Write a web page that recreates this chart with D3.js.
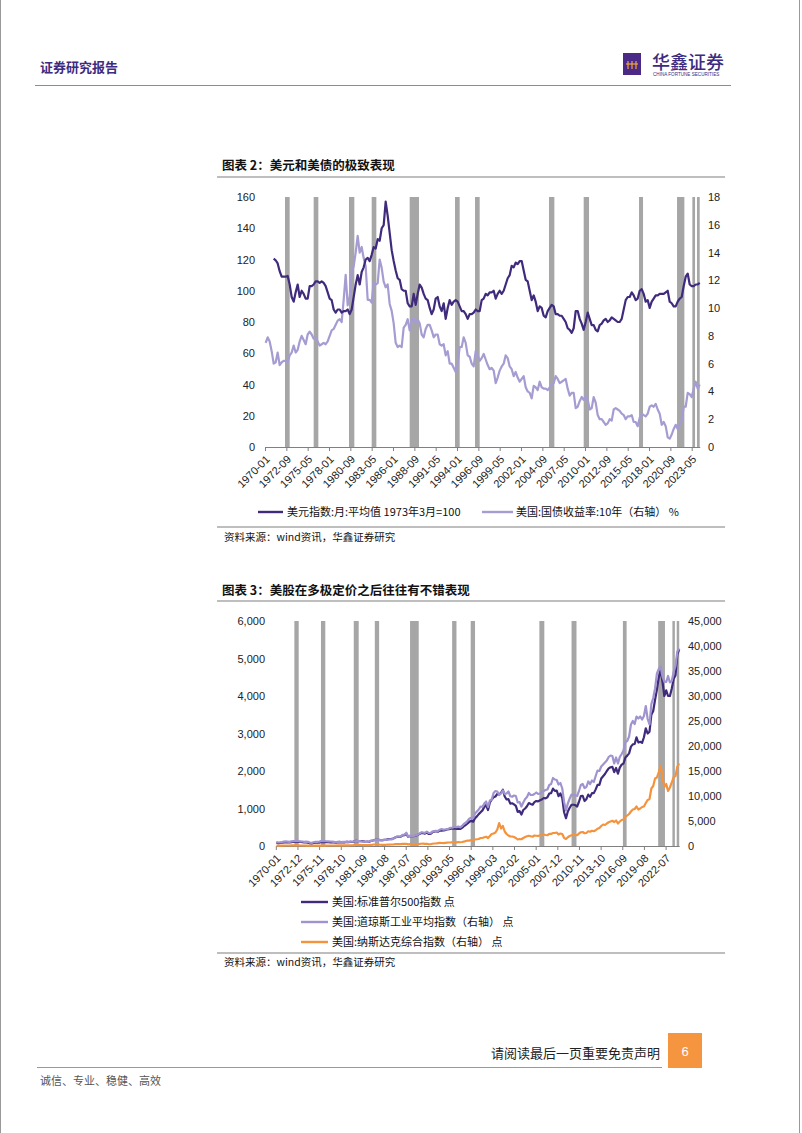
<!DOCTYPE html>
<html><head><meta charset="utf-8">
<script src="https://cdn.jsdelivr.net/npm/d3@7"></script>
<style>body{margin:0;background:#fff}svg{display:block}</style>
</head><body>
<script>
// ---------------- DATA ----------------
// Chart 1: quarterly samples (Feb/May/Aug/Nov)
const dxyStart = "1971-02";
const dxy = [
120.5,119.5,117.5,112.5, 109,109,109,109.5, 104,96,93,99, 104,96,100,98, 95,95,103,103,
104,106,106,105, 106,105,103,99, 95,94,88,86, 88,88,86,87, 87,88,85,88,
96,104,110,104, 112,115,120,121, 119,123,128,127, 133,132,140,142, 157,148,137,126,
119,113,108,107, 101,100,100,92, 90,90,98,91, 98,104,102,98, 95,94,89,85,
88,95,96,90, 87,92,82,89, 94,91,93,94, 93,90,87,87, 85,82,85,85,
86,88,87,87, 94,95,98,97, 99,99,100,95, 98,100,98,100, 104,108,110,116,
115,118,117,119, 119,113,107,106, 100,94,97,93, 87,90,89,84, 83,87,89,91,
90,85,85,84, 84,82,80,76, 75,73,76,87, 87,82,79,75, 80,86,82,78,
78,75,74,78, 79,81,82,80, 81,83,82,81, 80,80,82,88, 94,96,96,99,
97,94,95,100, 101,98,93,94, 89,93,95,97, 97,98,98,98, 99,100,93,92,
90,90,93,95, 96,103,109,111, 104,103,103,104, 104,105
];
const ust10Start = "1970-02";
const ust10 = [
7.5,7.9,7.6,6.9, 6.0,6.1,6.8,5.9, 6.1,6.2,6.2,6.1, 6.6,6.8,7.3,6.8, 7.0,7.6,8.0,7.7,
7.4,8.1,8.3,8.1, 7.8,7.9,7.6,7.3, 7.4,7.5,7.4,7.6, 8.0,8.4,8.5,8.8, 9.1,9.2,9.0,10.6,
12.4,10.2,10.8,12.7, 13.0,14.0,15.2,14.0, 14.4,13.6,13.0,10.6, 10.6,10.4,11.9,11.7, 11.8,13.5,12.9,11.9,
11.5,11.7,10.3,9.8, 8.9,7.5,7.2,7.3, 7.2,8.6,8.8,9.2, 8.4,9.1,9.3,8.9, 9.2,8.9,8.1,7.9,
8.5,8.8,8.8,8.4, 7.9,8.1,8.1,7.4, 7.3,7.4,6.6,6.9, 6.0,6.0,5.7,5.4, 6.0,7.2,7.2,7.9,
7.5,6.6,6.5,6.0, 5.8,6.9,6.6,6.2, 6.4,6.7,6.3,5.9, 5.6,5.7,5.5,4.6, 5.0,5.5,5.8,6.0,
6.6,6.4,5.8,5.6, 5.1,5.4,5.0,4.7, 4.9,5.1,4.3,4.0, 3.9,3.5,4.4,4.3, 4.1,4.7,4.3,4.2,
4.2,4.1,4.3,4.5, 4.6,5.1,4.9,4.6, 4.7,4.8,4.9,4.2, 3.7,3.9,3.9,2.8, 2.9,3.3,3.6,3.4,
3.7,3.4,2.7,2.8, 3.6,3.2,2.3,2.0, 2.0,1.8,1.6,1.7, 2.0,1.9,2.7,2.8, 2.7,2.6,2.4,2.3,
2.0,2.2,2.2,2.3, 1.8,1.8,1.5,2.1, 2.4,2.3,2.2,2.4, 2.9,3.0,2.9,3.1, 2.7,2.4,1.6,1.8,
1.5,0.7,0.6,0.9, 1.3,1.6,1.3,1.6, 1.9,2.9,2.9,3.9, 3.8,3.6,4.2,4.7, 4.2,4.5
];
// Chart 2: quarterly samples (Feb/May/Aug/Nov)
const stockStart = "1970-02";
const spx = [
89,76,81,87, 97,100,99,93, 105,107,110,115, 112,106,105,97, 95,89,73,69,
81,90,86,91, 100,101,103,101, 100,97,97,95, 88,97,103,94, 97,99,108,102,
114,107,123,136, 131,132,132,123, 114,116,110,138, 146,162,164,165, 157,153,162,165,
182,186,189,200, 224,244,247,248, 284,290,325,245, 267,262,263,273, 292,318,348,345,
330,360,325,322, 365,385,395,380, 410,412,415,425, 440,447,460,462, 470,455,465,455,
485,530,560,600, 650,670,650,740, 790,850,900,950, 1040,1090,960,1160, 1240,1300,1320,1390,
1370,1420,1500,1320, 1240,1250,1130,1140, 1110,1070,910,930, 840,960,1000,1060, 1145,1120,1100,1170,
1200,1190,1220,1240, 1280,1270,1300,1400, 1410,1530,1470,1480, 1330,1400,1280,900, 740,920,1020,1100,
1100,1090,1050,1180, 1330,1340,1200,1250, 1370,1310,1410,1410, 1510,1630,1630,1800, 1860,1920,2000,2070,
2100,2110,1970,2080, 1930,2090,2170,2200, 2360,2410,2470,2650, 2710,2720,2900,2760, 2780,2750,2900,3140,
3000,3050,3500,3600, 3900,4170,4500,4680, 4380,4000,4150,4000, 4000,4200,4450,4550, 5100,5250
];
const dji = [
760,700,730,790, 880,920,890,830, 920,960,960,1020, 960,930,900,840, 860,830,680,620,
740,830,830,850, 980,990,980,950, 940,900,870,830, 750,840,880,800, 820,830,880,820,
860,850,930,990, 970,990,900,860, 830,820,880,1040, 1110,1200,1210,1270, 1160,1120,1220,1220,
1290,1310,1330,1470, 1710,1880,1900,1910, 2220,2290,2660,1840, 2070,2030,2030,2110, 2260,2480,2740,2700,
2630,2880,2610,2560, 2880,2980,3040,2990, 3260,3400,3260,3300, 3370,3520,3650,3680, 3830,3760,3900,3740,
4000,4400,4650,5050, 5500,5650,5600,6500, 6900,7300,7900,7800, 8500,8900,7800,9100, 9300,10600,11000,10900,
10200,10500,11100,10400, 10500,10900,9950,9850, 10100,10000,8700,8800, 7900,8700,9400,9800, 10600,10200,10200,10400,
10700,10400,10500,10800, 11000,11200,11300,12200, 12400,13600,13300,13200, 12300,12600,11500,8800, 7100,8500,9500,10300,
10300,10100,10000,11000, 12200,12400,11600,11800, 12900,12400,13100,12800, 14000,15100,15000,15900, 16300,16700,17100,17800,
18100,18000,16500,17700, 16500,17800,18400,19100, 20800,21000,21900,24300, 25000,24400,25900,25500, 25900,25300,26000,28000,
25400,24300,28400,29600, 31500,34500,35400,35900, 33900,32900,32800,34000, 32700,33000,34800,36000, 38900,39500
];
const ixic = [
85,70,75,80, 95,105,105,102, 115,130,130,132, 125,104,104,95, 94,80,68,58,
75,87,80,80, 90,92,90,90, 97,96,101,103, 100,120,130,115, 117,132,145,135,
155,145,175,195, 200,210,195,190, 175,170,170,230, 260,300,300,285, 245,235,245,245,
280,280,300,305, 360,380,360,360, 420,410,440,320, 370,370,380,390, 400,410,450,460,
440,450,390,350, 450,500,520,560, 630,600,580,640, 680,700,720,750, 780,740,760,750,
800,860,1000,1060, 1070,1200,1150,1300, 1350,1400,1600,1600, 1750,1850,1600,2000, 2400,2500,2700,3300,
4600,3500,4000,2900, 2400,2100,1900,1900, 1800,1600,1300,1400, 1350,1600,1800,1950, 2050,1950,1850,2100,
2050,2000,2150,2200, 2300,2200,2150,2430, 2420,2600,2600,2700, 2300,2500,2400,1600, 1400,1750,2000,2150,
2250,2250,2150,2500, 2750,2800,2550,2600, 2950,2850,3050,2950, 3150,3450,3600,4000, 4300,4200,4500,4750,
4900,5050,4800,5100, 4500,4900,5200,5300, 5800,6100,6400,6900, 7300,7400,7900,7300, 7500,7800,7900,8600,
9200,9400,11500,12000, 13500,13700,14800,16000, 13900,11800,12400,11000, 11700,12700,13800,14000, 15900,16500
];
// shaded periods (start month, end month)
const shadeStart = ["1972-07","1976-02","1980-07","1983-05","1988-02","1993-10","1996-04","2005-07","2009-11","2016-10","2021-07","2023-06","2024-01"];
const shadeEnd   = ["1973-02","1976-09","1981-03","1983-12","1989-04","1994-05","1996-11","2006-03","2010-07","2017-04","2022-06","2023-10","2024-05"];
// tick labels
const c1XTicks = ["1970-01","1972-09","1975-05","1978-01","1980-09","1983-05","1986-01","1988-09","1991-05","1994-01","1996-09","1999-05","2002-01","2004-09","2007-05","2010-01","2012-09","2015-05","2018-01","2020-09","2023-05"];
const c1LeftTicks = [0,20,40,60,80,100,120,140,160];
const c1RightTicks = [0,2,4,6,8,10,12,14,16,18];
const c2XTicks = ["1970-01","1972-12","1975-11","1978-10","1981-09","1984-08","1987-07","1990-06","1993-05","1996-04","1999-03","2002-02","2005-01","2007-12","2010-11","2013-10","2016-09","2019-08","2022-07"];
const c2LeftTicks = [0,1000,2000,3000,4000,5000,6000];
const c2RightTicks = [0,5000,10000,15000,20000,25000,30000,35000,40000,45000];
const c1Legend = ["美元指数:月:平均值 1973年3月=100","美国:国债收益率:10年（右轴） %"];
const c2Legend = ["美国:标准普尔500指数 点","美国:道琼斯工业平均指数（右轴） 点","美国:纳斯达克综合指数（右轴） 点"];

// ---------------- DRAW ----------------
const W=802,H=1133;
const CJK='"Noto Sans CJK SC","Noto Sans",sans-serif';
const LAT='"Liberation Sans",Arial,sans-serif';
const C_DARK="#3f2a7c", C_LAV="#a69cd2", C_LAV2="#a093d0", C_ORA="#f5933d", C_BAR="#a6a6a6";
const svg=d3.select("body").append("svg").attr("width",W).attr("height",H);
const mi=s=>{const p=s.split("-").map(Number);return (p[0]-1970)*12+p[1]-1;};
const toPts=(start,arr)=>arr.map((v,i)=>({m:mi(start)+3*i,v}));

// page frame
svg.append("line").attr("x1",0.5).attr("x2",0.5).attr("y1",0).attr("y2",H).attr("stroke","#999");
svg.append("line").attr("x1",799.5).attr("x2",799.5).attr("y1",0).attr("y2",H).attr("stroke","#999");

// header
svg.append("text").attr("x",40).attr("y",72).text("证券研究报告")
  .attr("font-family",CJK).attr("font-size",13).attr("font-weight","bold").attr("fill","#3d2b80");
svg.append("line").attr("x1",35).attr("x2",731).attr("y1",85.5).attr("y2",85.5).attr("stroke","#8c8c8c").attr("stroke-width",1);
const logo=svg.append("g");
logo.append("rect").attr("x",623).attr("y",53).attr("width",18).attr("height",22).attr("fill","#4a2a86");
[628,632,636].forEach(x=>logo.append("line").attr("x1",x).attr("x2",x).attr("y1",61).attr("y2",69).attr("stroke","#f1a43a").attr("stroke-width",1.2));
logo.append("line").attr("x1",626).attr("x2",638).attr("y1",64).attr("y2",64).attr("stroke","#f1a43a").attr("stroke-width",1.2);
svg.append("text").attr("x",652).attr("y",69).text("华鑫证券")
  .attr("font-family",CJK).attr("font-size",18).attr("fill","#3d2b80").attr("font-weight","500");
svg.append("text").attr("x",653).attr("y",76).text("CHINA FORTUNE SECURITIES")
  .attr("font-family",LAT).attr("font-size",4.6).attr("fill","#3d2b80");

// footer
svg.append("text").attr("x",660).attr("y",1058).attr("text-anchor","end").text("请阅读最后一页重要免责声明")
  .attr("font-family",CJK).attr("font-size",13).attr("fill","#222");
svg.append("line").attr("x1",37).attr("x2",662).attr("y1",1067.5).attr("y2",1067.5).attr("stroke","#a09a78").attr("stroke-width",1.2);
svg.append("rect").attr("x",668).attr("y",1033).attr("width",34).attr("height",35).attr("fill","#f5953f");
svg.append("text").attr("x",685).attr("y",1056).attr("text-anchor","middle").text("6")
  .attr("font-family",LAT).attr("font-size",13).attr("fill","#fff");
svg.append("text").attr("x",40).attr("y",1085).text("诚信、专业、稳健、高效")
  .attr("font-family",CJK).attr("font-size",11).attr("fill","#555");

function title(y,txt,lineY){
  svg.append("text").attr("x",222).attr("y",y).text(txt)
    .attr("font-family",CJK).attr("font-size",12.5).attr("font-weight","bold").attr("fill","#111");
  svg.append("line").attr("x1",217).attr("x2",725).attr("y1",lineY).attr("y2",lineY).attr("stroke","#7f7f7f").attr("stroke-width",1.2);
}
function source(y,lineY){
  svg.append("line").attr("x1",217).attr("x2",725).attr("y1",lineY).attr("y2",lineY).attr("stroke","#7f7f7f").attr("stroke-width",1.2);
  svg.append("text").attr("x",224).attr("y",y).text("资料来源：wind资讯，华鑫证券研究")
    .attr("font-family",CJK).attr("font-size",10.5).attr("fill","#111");
}

function chart(cfg){
  const g=svg.append("g");
  const x=d3.scaleLinear().domain([0,652]).range([cfg.x0,cfg.x1]);
  const yL=d3.scaleLinear().domain([0,cfg.lMax]).range([cfg.yB,cfg.yT]);
  const yR=d3.scaleLinear().domain([0,cfg.rMax]).range([cfg.yB,cfg.yT]);
  g.selectAll("rect.sh").data(shadeStart.map((s,i)=>[mi(s),mi(shadeEnd[i])])).enter().append("rect")
    .attr("x",d=>x(d[0])).attr("width",d=>x(d[1])-x(d[0])).attr("y",cfg.yT).attr("height",cfg.yB-cfg.yT).attr("fill",C_BAR);
  const xa=g.append("g").attr("transform",`translate(0,${cfg.yB})`)
    .call(d3.axisBottom(x).tickValues(cfg.xTicks.map(mi)).tickFormat((d,i)=>cfg.xTicks[i]).tickSize(4).tickSizeOuter(0));
  xa.select(".domain").attr("stroke","#808080");
  xa.selectAll(".tick line").attr("stroke","#808080");
  xa.selectAll(".tick text").attr("font-family",LAT).attr("font-size",11).attr("fill","#222")
    .attr("text-anchor","end").attr("dy",0).attr("y",0)
    .attr("transform","translate(5,13) rotate(-45)");
  const la=g.append("g").attr("transform",`translate(${cfg.lx},0)`)
    .call(d3.axisLeft(yL).tickValues(cfg.lTicks).tickFormat(cfg.fmt).tickSize(0));
  la.select(".domain").remove();
  la.selectAll("text").attr("font-family",LAT).attr("font-size",11).attr("fill","#222").attr("x",0);
  const ra=g.append("g").attr("transform",`translate(${cfg.rx},0)`)
    .call(d3.axisRight(yR).tickValues(cfg.rTicks).tickFormat(cfg.fmt).tickSize(0));
  ra.select(".domain").remove();
  ra.selectAll("text").attr("font-family",LAT).attr("font-size",11).attr("fill","#222").attr("x",0);
  cfg.series.forEach(s=>{
    const ys=s.axis==="L"?yL:yR;
    g.append("path").datum(toPts(s.start,s.data)).attr("fill","none").attr("stroke",s.color)
      .attr("stroke-width",2.2).attr("stroke-linejoin","round")
      .attr("d",d3.line().x(d=>x(d.m)).y(d=>ys(d.v)));
  });
}

// Chart 1
title(170,"图表 2：美元和美债的极致表现",177);
chart({x0:265,x1:699.7,yT:197,yB:447,lMax:160,rMax:18,lx:255,rx:708,
  xTicks:c1XTicks,lTicks:c1LeftTicks,rTicks:c1RightTicks,fmt:d3.format("d"),
  series:[{start:ust10Start,data:ust10,color:C_LAV,axis:"R"},{start:dxyStart,data:dxy,color:C_DARK,axis:"L"}]});
svg.append("line").attr("x1",258).attr("x2",283).attr("y1",512).attr("y2",512).attr("stroke",C_DARK).attr("stroke-width",2.4);
svg.append("text").attr("x",287).attr("y",516).text(c1Legend[0]).attr("font-family",CJK).attr("font-size",11).attr("fill","#111");
svg.append("line").attr("x1",482).attr("x2",513).attr("y1",512).attr("y2",512).attr("stroke",C_LAV).attr("stroke-width",2.4);
svg.append("text").attr("x",516).attr("y",516).text(c1Legend[1]).attr("font-family",CJK).attr("font-size",11).attr("fill","#111");
source(541,527);

// Chart 2
title(595,"图表 3：美股在多极定价之后往往有不错表现",601);
chart({x0:275.8,x1:679.2,yT:621,yB:846,lMax:6000,rMax:45000,lx:265,rx:688,
  xTicks:c2XTicks,lTicks:c2LeftTicks,rTicks:c2RightTicks,fmt:d3.format(","),
  series:[{start:stockStart,data:ixic,color:C_ORA,axis:"R"},{start:stockStart,data:spx,color:C_DARK,axis:"L"},{start:stockStart,data:dji,color:C_LAV2,axis:"R"}]});
const lg2=[C_DARK,C_LAV2,C_ORA];
c2Legend.forEach((t,i)=>{
  const y=902+i*20;
  svg.append("line").attr("x1",301).attr("x2",328).attr("y1",y).attr("y2",y).attr("stroke",lg2[i]).attr("stroke-width",2.4);
  svg.append("text").attr("x",332).attr("y",y+4).text(t).attr("font-family",CJK).attr("font-size",11).attr("fill","#111");
});
source(966,953);
</script>
</body></html>
